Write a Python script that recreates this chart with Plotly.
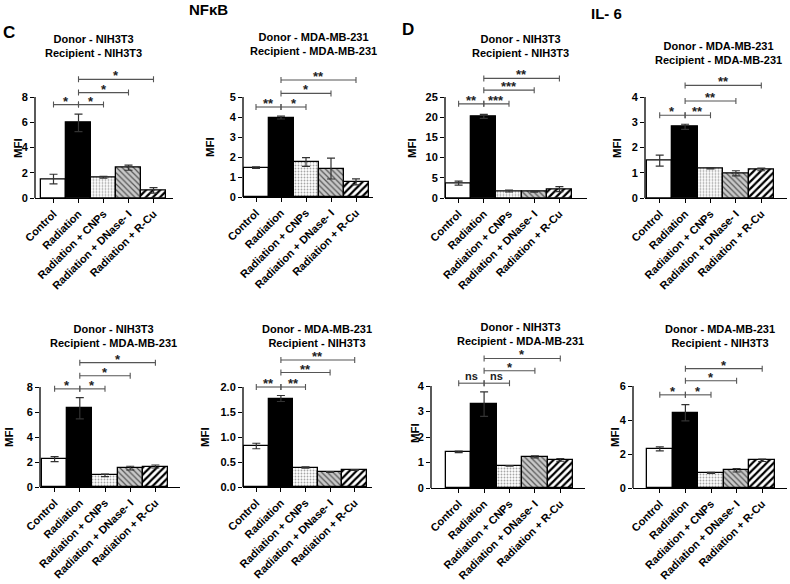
import plotly.graph_objects as go

W, H = 790, 584
FONT = "Liberation Sans, Arial, sans-serif"

categories = ["Control", "Radiation", "Radiation + CNPs", "Radiation + DNase- I", "Radiation + R-Cu"]
comparisons = [(0, 1), (1, 2), (1, 3), (1, 4)]

# ---------------- NFkB ----------------
nfkb_nih_nih_title = "Donor - NIH3T3<br>Recipient - NIH3T3"
nfkb_nih_nih_mean = [1.5, 5.95, 1.65, 2.4, 0.6]
nfkb_nih_nih_err = [0.38, 0.7, 0.07, 0.2, 0.22]
nfkb_nih_nih_sig = ["*", "*", "*", "*"]
nfkb_nih_nih_sig_level = [7.4, 8.35, 9.4]
nfkb_nih_nih_ticks = [0, 2, 4, 6, 8]

nfkb_mda_mda_title = "Donor - MDA-MB-231<br>Recipient - MDA-MB-231"
nfkb_mda_mda_mean = [1.47, 3.97, 1.75, 1.42, 0.76]
nfkb_mda_mda_err = [0.04, 0.07, 0.22, 0.52, 0.15]
nfkb_mda_mda_sig = ["**", "*", "*", "**"]
nfkb_mda_mda_sig_level = [4.5, 5.18, 5.85]
nfkb_mda_mda_ticks = [0, 1, 2, 3, 4, 5]

nfkb_nih_mda_title = "Donor - NIH3T3<br>Recipient - MDA-MB-231"
nfkb_nih_mda_mean = [2.23, 6.3, 0.93, 1.51, 1.64]
nfkb_nih_mda_err = [0.2, 0.85, 0.1, 0.15, 0.12]
nfkb_nih_mda_sig = ["*", "*", "*", "*"]
nfkb_nih_mda_sig_level = [7.85, 8.9, 9.95]
nfkb_nih_mda_ticks = [0, 2, 4, 6, 8]

nfkb_mda_nih_title = "Donor - MDA-MB-231<br>Recipient - NIH3T3"
nfkb_mda_nih_mean = [0.82, 1.77, 0.39, 0.3, 0.34]
nfkb_mda_nih_err = [0.055, 0.06, 0.012, 0.006, 0.006]
nfkb_mda_nih_sig = ["**", "**", "**", "**"]
nfkb_mda_nih_sig_level = [2.0, 2.29, 2.54]
nfkb_mda_nih_ticks = [0.0, 0.5, 1.0, 1.5, 2.0]

# ---------------- IL-6 ----------------
il6_nih_nih_title = "Donor - NIH3T3<br>Recipient - NIH3T3"
il6_nih_nih_mean = [3.7, 20.2, 1.73, 1.57, 2.2]
il6_nih_nih_err = [0.5, 0.5, 0.25, 0.1, 0.6]
il6_nih_nih_sig = ["**", "***", "***", "**"]
il6_nih_nih_sig_level = [23.3, 26.7, 29.6]
il6_nih_nih_ticks = [0, 5, 10, 15, 20, 25]

il6_mda_mda_title = "Donor - MDA-MB-231<br>Recipient - MDA-MB-231"
il6_mda_mda_mean = [1.48, 2.82, 1.17, 0.98, 1.13]
il6_mda_mda_err = [0.22, 0.1, 0.02, 0.1, 0.05]
il6_mda_mda_sig = ["*", "**", "**", "**"]
il6_mda_mda_sig_level = [3.28, 3.84, 4.46]
il6_mda_mda_ticks = [0, 1, 2, 3, 4]

il6_nih_mda_title = "Donor - NIH3T3<br>Recipient - MDA-MB-231"
il6_nih_mda_mean = [1.42, 3.29, 0.87, 1.22, 1.1]
il6_nih_mda_err = [0.03, 0.48, 0.01, 0.04, 0.05]
il6_nih_mda_sig = ["ns", "ns", "*", "*"]
il6_nih_mda_sig_level = [4.11, 4.6, 5.08]
il6_nih_mda_ticks = [0, 1, 2, 3, 4]

il6_mda_nih_title = "Donor - MDA-MB-231<br>Recipient - NIH3T3"
il6_mda_nih_mean = [2.3, 4.43, 0.89, 1.04, 1.63]
il6_mda_nih_err = [0.12, 0.48, 0.03, 0.1, 0.07]
il6_mda_nih_sig = ["*", "*", "*", "*"]
il6_mda_nih_sig_level = [5.48, 6.31, 7.02]
il6_mda_nih_ticks = [0, 2, 4, 6]

# -------- bar styling (per category) --------
bar_styles = [
    dict(color="white"),
    dict(color="black"),
    dict(color="white", pattern=dict(shape=".", fgcolor="#a6a6a6", bgcolor="white", size=3, solidity=0.3, fillmode="replace")),
    dict(color="#c8c8c8", pattern=dict(shape="\\", fgcolor="#555555", bgcolor="#c8c8c8", size=4, solidity=0.3, fillmode="replace")),
    dict(color="white", pattern=dict(shape="/", fgcolor="black", bgcolor="white", size=5, solidity=0.45, fillmode="replace")),
]

# -------- panel layout (pixel geometry) --------
panels = [
    dict(mean=nfkb_nih_nih_mean, err=nfkb_nih_nih_err, sig=nfkb_nih_nih_sig, lvl=nfkb_nih_nih_sig_level,
         ticks=nfkb_nih_nih_ticks, title=nfkb_nih_nih_title, fmt="",
         left=35, bar0=41, bw=25, right=173, zero=198, top=97, tx=93, ty=46, mx=18, my=148),
    dict(mean=nfkb_mda_mda_mean, err=nfkb_mda_mda_err, sig=nfkb_mda_mda_sig, lvl=nfkb_mda_mda_sig_level,
         ticks=nfkb_mda_mda_ticks, title=nfkb_mda_mda_title, fmt="",
         left=243, bar0=243.5, bw=25, right=373, zero=197, top=97, tx=313, ty=44, mx=210, my=147),
    dict(mean=il6_nih_nih_mean, err=il6_nih_nih_err, sig=il6_nih_nih_sig, lvl=il6_nih_nih_sig_level,
         ticks=il6_nih_nih_ticks, title=il6_nih_nih_title, fmt="",
         left=445, bar0=446, bw=25.2, right=587, zero=198, top=97, tx=520, ty=46, mx=412, my=148),
    dict(mean=il6_mda_mda_mean, err=il6_mda_mda_err, sig=il6_mda_mda_sig, lvl=il6_mda_mda_sig_level,
         ticks=il6_mda_mda_ticks, title=il6_mda_mda_title, fmt="",
         left=645, bar0=647, bw=25.4, right=787, zero=198, top=97, tx=718, ty=53, mx=617, my=148),
    dict(mean=nfkb_nih_mda_mean, err=nfkb_nih_mda_err, sig=nfkb_nih_mda_sig, lvl=nfkb_nih_mda_sig_level,
         ticks=nfkb_nih_mda_ticks, title=nfkb_nih_mda_title, fmt="",
         left=40, bar0=42, bw=25.2, right=180, zero=487, top=387, tx=113, ty=336, mx=9, my=437),
    dict(mean=nfkb_mda_nih_mean, err=nfkb_mda_nih_err, sig=nfkb_mda_nih_sig, lvl=nfkb_mda_nih_sig_level,
         ticks=nfkb_mda_nih_ticks, title=nfkb_mda_nih_title, fmt=".1f",
         left=243, bar0=244, bw=24.6, right=372, zero=487, top=387, tx=317, ty=336, mx=205, my=437),
    dict(mean=il6_nih_mda_mean, err=il6_nih_mda_err, sig=il6_nih_mda_sig, lvl=il6_nih_mda_sig_level,
         ticks=il6_nih_mda_ticks, title=il6_nih_mda_title, fmt="",
         left=431, bar0=446, bw=25.4, right=585, zero=488, top=386, tx=520, ty=334, mx=415, my=433),
    dict(mean=il6_mda_nih_mean, err=il6_mda_nih_err, sig=il6_mda_nih_sig, lvl=il6_mda_nih_sig_level,
         ticks=il6_mda_nih_ticks, title=il6_mda_nih_title, fmt="",
         left=633, bar0=647, bw=25.6, right=787, zero=488, top=386, tx=720, ty=336, mx=615, my=437),
]

K = 1.5  # y range extension above top tick (room for brackets)
fig = go.Figure()
shapes = []
annotations = []
xpos = list(range(len(categories)))
layout_axes = {}

for i, p in enumerate(panels, start=1):
    xa = "x" if i == 1 else f"x{i}"
    ya = "y" if i == 1 else f"y{i}"
    xk = "xaxis" if i == 1 else f"xaxis{i}"
    yk = "yaxis" if i == 1 else f"yaxis{i}"
    n = len(categories)
    xr = [-0.5 - (p["bar0"] - p["left"]) / p["bw"], n - 0.5 + (p["right"] - (p["bar0"] + n * p["bw"])) / p["bw"]]
    top_px = p["zero"] - (p["zero"] - p["top"]) * K
    ytop = p["ticks"][-1]

    for j in range(n):
        st = bar_styles[j]
        marker = dict(color=st["color"], line=dict(color="black", width=1.3))
        if "pattern" in st:
            marker["pattern"] = st["pattern"]
        fig.add_trace(go.Bar(
            x=[xpos[j]], y=[p["mean"][j]], width=1, xaxis=xa, yaxis=ya, showlegend=False,
            name=categories[j], marker=marker,
            error_y=dict(type="data", array=[p["err"][j]], visible=True, color="#333",
                         thickness=1.2, width=4),
        ))

    layout_axes[xk] = dict(
        domain=[p["left"] / W, p["right"] / W], range=xr, anchor=ya,
        showline=True, linecolor="black", linewidth=1.3, showgrid=False, zeroline=False,
        ticks="outside", ticklen=4, tickcolor="black", tickwidth=1.2,
        tickmode="array", tickvals=xpos, ticktext=categories, tickangle=-45,
        tickfont=dict(family=FONT, size=11, color="black", weight="bold"),
    )
    layout_axes[yk] = dict(
        domain=[1 - p["zero"] / H, 1 - top_px / H], range=[0, ytop * K], anchor=xa,
        showline=False, showgrid=False, zeroline=False,
        ticks="outside", ticklen=4, tickcolor="black", tickwidth=1.2,
        tickmode="array", tickvals=p["ticks"], tickformat=p["fmt"],
        tickfont=dict(family=FONT, size=11, color="black", weight="bold"),
    )
    # left spine up to top tick
    shapes.append(dict(type="line", xref=f"{xa} domain", yref=ya, x0=0, x1=0, y0=0, y1=ytop,
                       line=dict(color="black", width=1.3)))

    # significance brackets
    levels = [p["lvl"][0], p["lvl"][0], p["lvl"][1], p["lvl"][2]]
    for (a, b), lv, s in zip(comparisons, levels, p["sig"]):
        shapes.append(dict(type="line", xref=xa, yref=ya, x0=a, x1=b, y0=lv, y1=lv,
                           line=dict(color="#555", width=1.1)))
        for xe in (a, b):
            shapes.append(dict(type="line", xref=xa, yref=ya, x0=xe, x1=xe, yanchor=lv,
                               ysizemode="pixel", y0=-3, y1=3, line=dict(color="#555", width=1.1)))
        annotations.append(dict(xref=xa, yref=ya, x=(a + b) / 2, y=lv, text=s, showarrow=False,
                                yanchor="bottom", yshift=(-6 if s != "ns" else -1),
                                font=dict(family=FONT, size=(13 if s != "ns" else 11), color="#222", weight="bold")))

    # panel title
    annotations.append(dict(xref="paper", yref="paper", x=p["tx"] / W, y=1 - p["ty"] / H, text=p["title"],
                            showarrow=False, xanchor="center", yanchor="middle",
                            font=dict(family=FONT, size=11, color="black", weight="bold")))
    # y axis title
    annotations.append(dict(xref="paper", yref="paper", x=p["mx"] / W, y=1 - p["my"] / H, text="MFI",
                            showarrow=False, textangle=-90, xanchor="center", yanchor="middle",
                            font=dict(family=FONT, size=11.5, color="black", weight="bold")))

# figure-level labels
for txt, x, y, sz in [("C", 9, 32, 17), ("NFκB", 208, 9, 15), ("D", 408, 30, 17), ("IL- 6", 606, 14, 15)]:
    annotations.append(dict(xref="paper", yref="paper", x=x / W, y=1 - y / H, text=txt, showarrow=False,
                            xanchor="center", yanchor="middle",
                            font=dict(family=FONT, size=sz, color="black", weight="bold")))

fig.update_layout(
    template="none", width=W, height=H, margin=dict(l=0, r=0, t=0, b=0),
    paper_bgcolor="white", plot_bgcolor="rgba(0,0,0,0)", bargap=0, barmode="overlay",
    shapes=shapes, annotations=annotations, showlegend=False,
    **layout_axes,
)

fig.write_html("out.html", config={"displayModeBar": False},
               post_script="document.body.style.margin='0';document.body.style.overflow='hidden';")
